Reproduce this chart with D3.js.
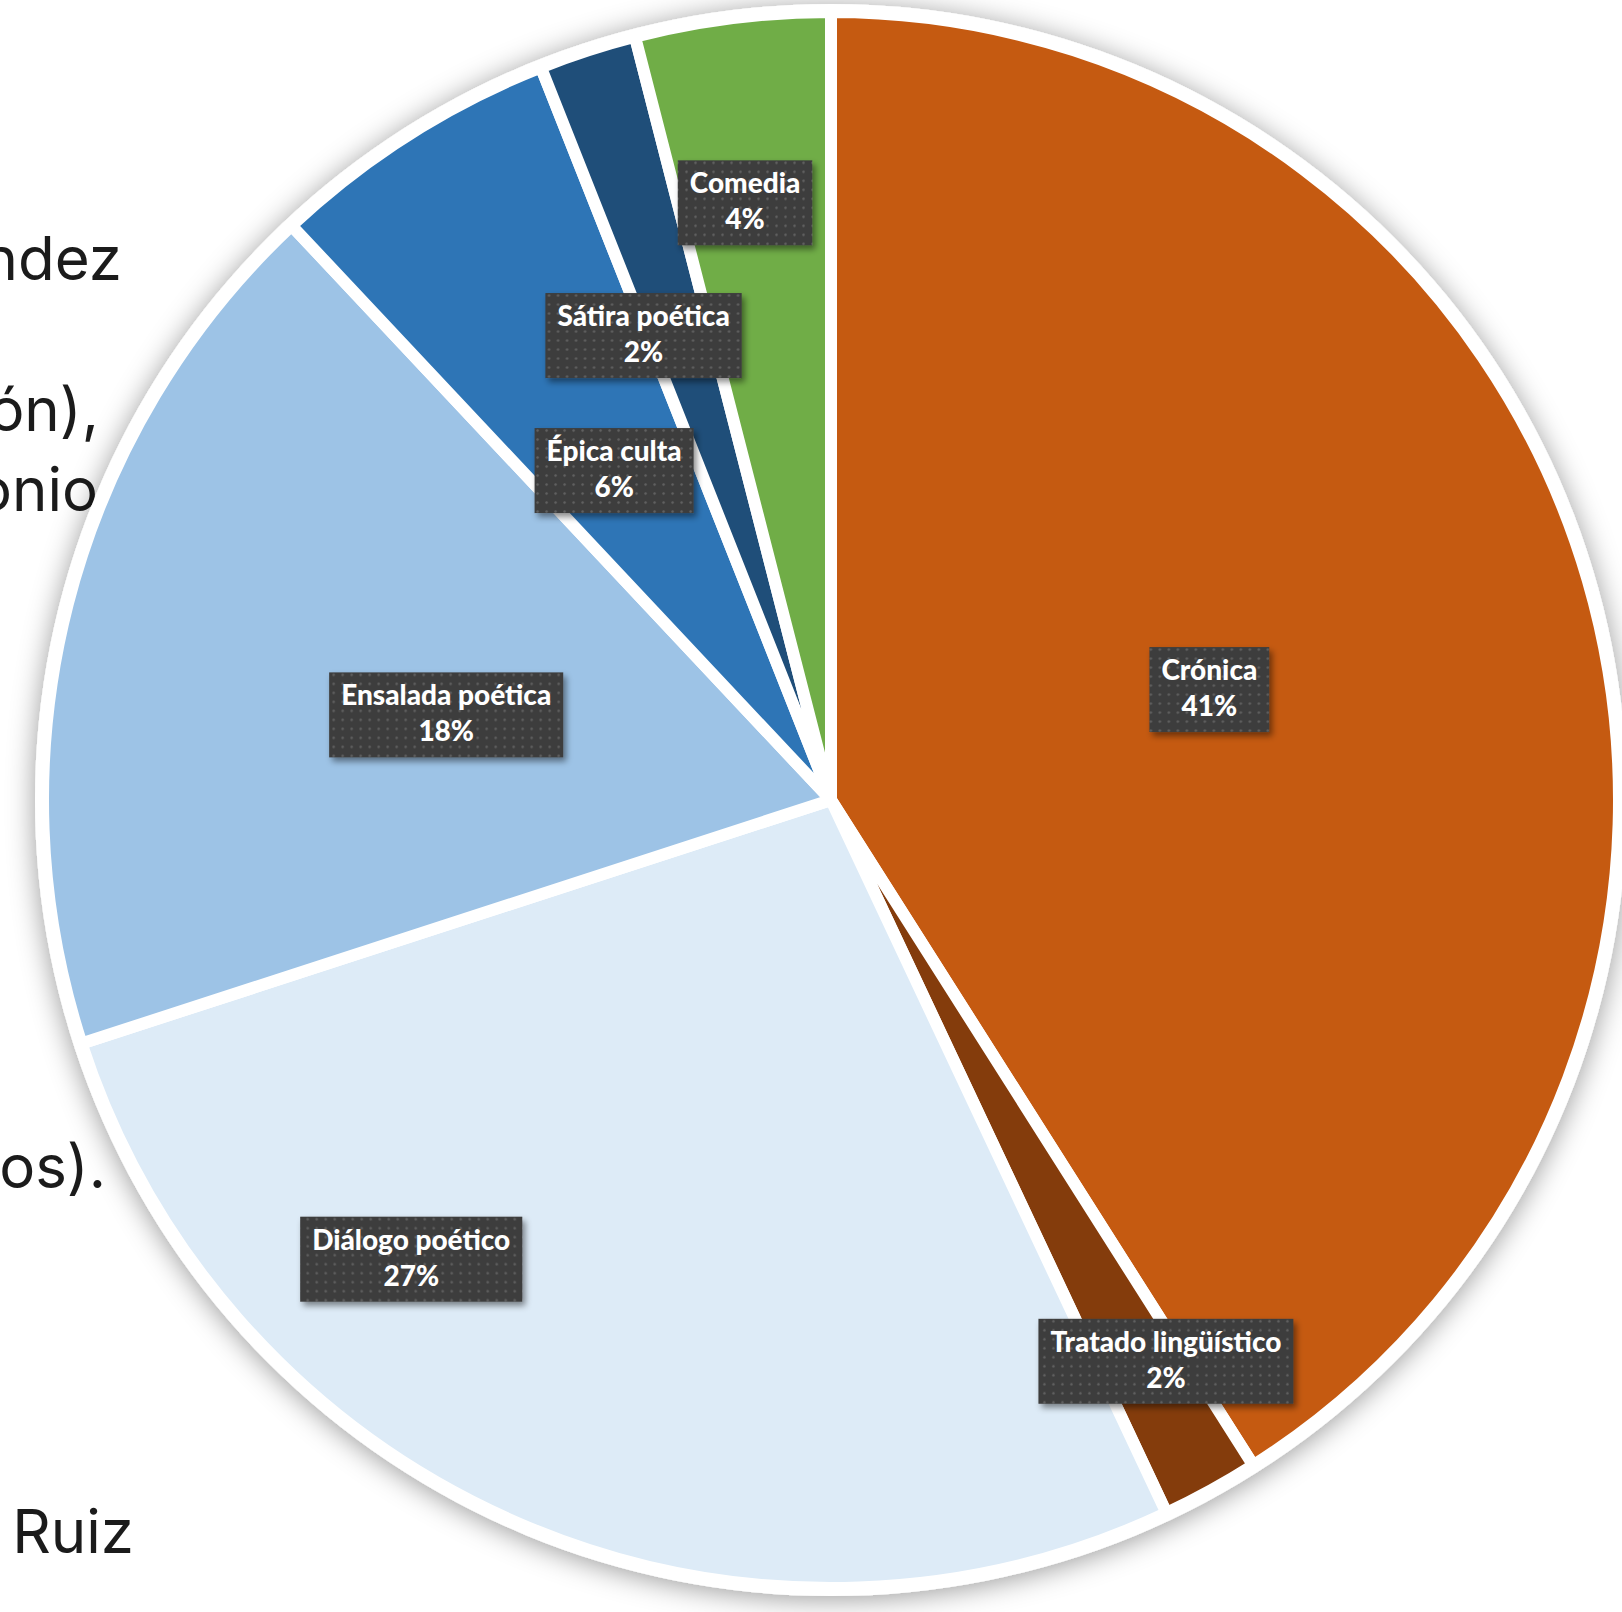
<!DOCTYPE html>
<html>
<head>
<meta charset="utf-8">
<script src="https://cdn.jsdelivr.net/npm/d3@7"></script>
<style>
  html, body { margin: 0; padding: 0; background: #fff; }
  svg { display: block; }
</style>
</head>
<body>
<script>
// chart data
var categories = ["Crónica", "Tratado lingüístico", "Diálogo poético", "Ensalada poética", "Épica culta", "Sátira poética", "Comedia"];
var values = [41, 2, 27, 18, 6, 2, 4];
var colors = ["#C55A11", "#843C0C", "#DDEBF7", "#9DC3E6", "#2E75B6", "#1F4E79", "#70AD47"];

// slide text fragments cut off at the left edge
var sideText = ["ndez", "ón),", "onio", "os).", "n Ruiz"];

var width = 1622, height = 1612;
var cx = 831, cy = 800, radius = 788;

// where each label box sits: fraction of radius and angle nudge (deg)
var labelPlace = {
  "Crónica": {r: 0.50, da: 0},
  "Tratado lingüístico": {r: 0.83, da: -2},
  "Diálogo poético": {r: 0.79, da: 19},
  "Ensalada poética": {r: 0.50, da: -2},
  "Épica culta": {r: 0.50, da: -1},
  "Sátira poética": {r: 0.635, da: -4},
  "Comedia": {r: 0.765, da: -1}
};

var svg = d3.select("body").append("svg")
    .attr("width", width)
    .attr("height", height);

var defs = svg.append("defs");

var shadow = defs.append("filter")
    .attr("id", "pieShadow")
    .attr("x", "-10%").attr("y", "-10%")
    .attr("width", "120%").attr("height", "120%");
shadow.append("feDropShadow")
    .attr("dx", 0).attr("dy", 3)
    .attr("stdDeviation", 14)
    .attr("flood-color", "#000")
    .attr("flood-opacity", 0.4);

var boxShadow = defs.append("filter")
    .attr("id", "boxShadow")
    .attr("x", "-20%").attr("y", "-20%")
    .attr("width", "140%").attr("height", "150%");
boxShadow.append("feDropShadow")
    .attr("dx", 3).attr("dy", 4)
    .attr("stdDeviation", 3)
    .attr("flood-color", "#000")
    .attr("flood-opacity", 0.45);

// dotted texture for the label boxes
var pat = defs.append("pattern")
    .attr("id", "dots")
    .attr("width", 9).attr("height", 9)
    .attr("patternUnits", "userSpaceOnUse");
pat.append("rect").attr("width", 9).attr("height", 9).attr("fill", "#3d3d3d");
pat.append("circle").attr("cx", 4.5).attr("cy", 4.5).attr("r", 1.2).attr("fill", "#626262");

// side text (behind the pie)
var lineY = [280, 431, 511, 1188, 1553];
var lineX = [122, 99, 98, 106, 134];
svg.append("g")
    .selectAll("text")
    .data(sideText)
  .enter().append("text")
    .attr("x", function(d, i) { return lineX[i]; })
    .attr("y", function(d, i) { return lineY[i]; })
    .attr("text-anchor", "end")
    .style("font-family", "Inter, 'Open Sans', sans-serif")
    .style("font-size", "60px")
    .style("fill", "#1b1b1b")
    .text(function(d) { return d; });

var g = svg.append("g")
    .attr("transform", "translate(" + cx + "," + cy + ")");

g.append("circle")
    .attr("r", radius + 8)
    .attr("fill", "#fff")
    .attr("filter", "url(#pieShadow)");

var pie = d3.pie().sort(null).value(function(d) { return d.value; });
var arc = d3.arc().innerRadius(0).outerRadius(radius);

var data = categories.map(function(c, i) { return {name: c, value: values[i], color: colors[i]}; });
var arcs = pie(data);

g.selectAll(".slice")
    .data(arcs)
  .enter().append("path")
    .attr("class", "slice")
    .attr("d", arc)
    .attr("fill", function(d) { return d.data.color; })
    .attr("stroke", "#fff")
    .attr("stroke-width", 12)
    .attr("stroke-linejoin", "round");

var total = d3.sum(values);
var pct = d3.format(".0%");

var labels = g.selectAll(".lbl")
    .data(arcs)
  .enter().append("g")
    .attr("class", "lbl")
    .attr("transform", function(d) {
      var p = labelPlace[d.data.name];
      var a = (d.startAngle + d.endAngle) / 2 + p.da * Math.PI / 180;
      var r = radius * p.r;
      return "translate(" + (Math.sin(a) * r) + "," + (-Math.cos(a) * r) + ")";
    });

var box = labels.append("rect")
    .attr("fill", "url(#dots)")
    .attr("filter", "url(#boxShadow)");

var t1 = labels.append("text")
    .attr("y", -10)
    .attr("text-anchor", "middle")
    .style("font-family", "Lato, 'Open Sans', sans-serif")
    .style("font-weight", "900")
    .style("font-size", "28px")
    .style("fill", "#fff")
    .text(function(d) { return d.data.name; });

labels.append("text")
    .attr("y", 26)
    .attr("text-anchor", "middle")
    .style("font-family", "Lato, 'Open Sans', sans-serif")
    .style("font-weight", "900")
    .style("font-size", "28px")
    .style("fill", "#fff")
    .text(function(d) { return pct(d.data.value / total); });

t1.each(function(d) {
  var w = this.getComputedTextLength() + 24;
  d3.select(this.parentNode).select("rect")
    .attr("x", -w / 2)
    .attr("y", -43)
    .attr("width", w)
    .attr("height", 85);
});
</script>
</body>
</html>
